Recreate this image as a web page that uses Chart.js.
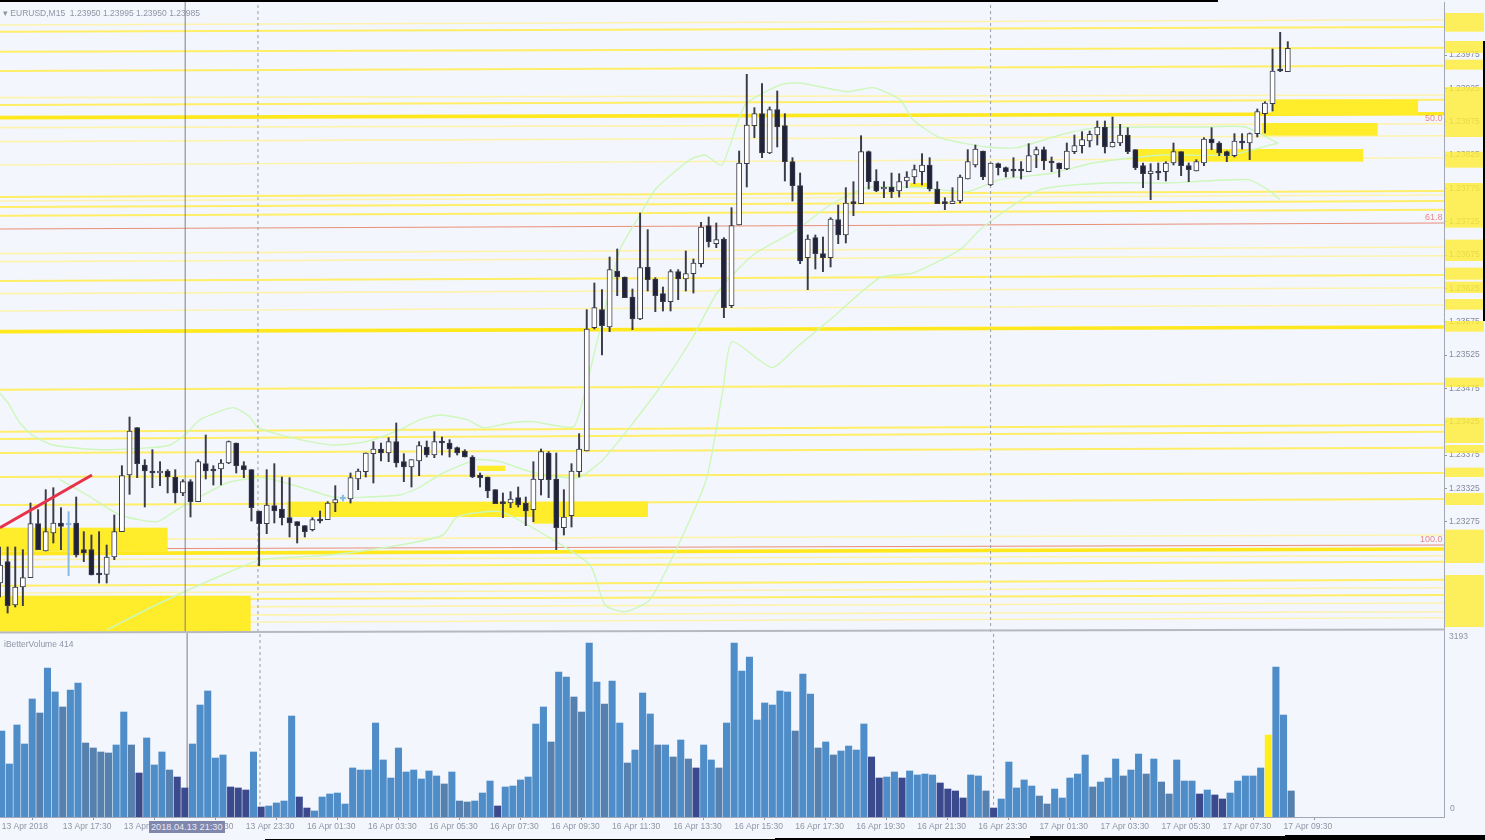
<!DOCTYPE html>
<html>
<head>
<meta charset="utf-8">
<title>EURUSD,M15</title>
<script src="https://cdn.jsdelivr.net/npm/chart.js@4"></script>
<style>
  html, body { margin: 0; padding: 0; width: 1485px; height: 840px; overflow: hidden; background: #f4f6fd; }
  canvas { position: absolute; left: 0; filter: blur(0.4px); }
  #priceWrap { position: absolute; left: 0; top: 2px; width: 1485px; height: 630px; }
  #volumeWrap { position: absolute; left: 0; top: 632px; width: 1485px; height: 208px; }
  .txt { position: absolute; font: 8.5px "Liberation Sans", sans-serif; color: #8e95a4; white-space: pre; line-height: 10px; }
  .fib { color: #e58a8a; font-size: 9px; }
  .edge { position: absolute; background: #000; }
  #dateBox { background: #8087ad; color: #e8eaf5; padding: 1px 2px; font-size: 9.2px; }
  #paneLine { position: absolute; left: 0; top: 630px; width: 1445px; height: 2px; background: #b7b9be; transform: rotate(-0.11deg); }
</style>
</head>
<body>
<div id="priceWrap"><canvas id="priceChart"></canvas></div>
<div id="volumeWrap"><canvas id="volumeChart"></canvas></div>
<div id="paneLine"></div>

<div class="txt" style="left:3px;top:8px">▾ EURUSD,M15  1.23950 1.23995 1.23950 1.23985</div>
<div class="txt" style="left:4px;top:639px">iBetterVolume 414</div>
<div class="txt" style="left:1449px;top:631px">3193</div>
<div class="txt" style="left:1450px;top:803px">0</div>
<div class="txt fib" style="left:1425px;top:113px">50.0</div>
<div class="txt fib" style="left:1425px;top:212px">61.8</div>
<div class="txt fib" style="left:1420px;top:534px">100.0</div>
<div class="txt" id="dateBox" style="left:149px;top:821px">2018.04.13 21:30</div>
<div class="edge" style="left:0;top:0;width:1218px;height:2px"></div>
<div class="edge" style="left:1483px;top:41px;width:2px;height:280px"></div>
<div class="edge" style="left:265px;top:839px;width:1220px;height:1px"></div>
<div class="edge" style="left:775px;top:838px;width:710px;height:2px"></div>
<div class="edge" style="left:1030px;top:836px;width:455px;height:4px"></div>
<div class="edge" style="left:1285px;top:835px;width:200px;height:5px"></div>

<script>
// all prices in points, 123237 = 1.23237
const highPrices = [
  123237,123237,123237,123233,123303,123293,123323,123326,123296,123290,
  123312,123260,123255,123260,123240,123285,123359,123432,123416,123368,
  123383,123365,123353,123353,123338,123338,123368,123405,123359,123368,
  123396,123393,123365,123353,123291,123353,123362,123342,123341,123275,
  123269,123281,123291,123305,123329,123315,123348,123354,123378,123395,
  123393,123401,123423,123377,123368,123395,123396,123410,123402,123398,
  123387,123383,123374,123348,123342,123323,123318,123320,123327,123312,
  123365,123384,123380,123378,123323,123362,123407,123593,123633,123623,
  123672,123684,123642,123624,123738,123713,123641,123627,123653,123653,
  123681,123669,123724,123732,123723,123701,123746,123831,123946,123896,
  123932,123897,123921,123887,123821,123798,123705,123705,123702,123731,
  123750,123776,123785,123854,123831,123803,123785,123798,123797,123800,
  123810,123827,123821,123785,123761,123776,123795,123833,123840,123831,
  123813,123813,123807,123821,123815,123842,123837,123837,123822,123813,
  123843,123855,123860,123861,123876,123876,123882,123871,123866,123833,
  123813,123812,123813,123815,123843,123830,123813,123818,123851,123866,
  123845,123831,123857,123857,123858,123894,123905,123984,124009,123995];
const lowPrices = [
  123162,123138,123147,123149,123191,123233,123231,123243,123233,123194,
  123222,123215,123195,123183,123183,123218,123260,123316,123341,123297,
  123326,123329,123318,123303,123314,123282,123305,123339,123330,123330,
  123362,123348,123341,123276,123209,123257,123273,123270,123252,123243,
  123252,123261,123273,123278,123290,123306,123303,123323,123342,123333,
  123366,123365,123357,123335,123327,123344,123372,123371,123375,123372,
  123375,123372,123341,123327,123311,123302,123281,123296,123297,123269,
  123275,123315,123311,123233,123255,123267,123342,123381,123564,123525,
  123560,123614,123611,123563,123578,123621,123590,123591,123591,123608,
  123621,123618,123657,123687,123686,123581,123596,123720,123777,123851,
  123821,123827,123837,123786,123756,123662,123623,123654,123650,123657,
  123692,123693,123734,123752,123774,123770,123761,123761,123762,123776,
  123782,123780,123771,123752,123743,123752,123753,123789,123807,123788,
  123779,123795,123792,123792,123789,123800,123806,123803,123800,123792,
  123803,123827,123828,123837,123840,123828,123837,123839,123827,123803,
  123776,123758,123788,123786,123810,123794,123785,123801,123809,123833,
  123824,123815,123822,123834,123818,123852,123858,123891,123950,123950];
const openPrices = [
  123183,123215,123150,123177,123191,123272,123231,123258,123273,123272,
  123273,123233,123233,123198,123196,123222,123260,123345,123416,123360,
  123351,123348,123351,123342,123318,123335,123305,123362,123353,123354,
  123363,123393,123359,123353,123291,123272,123299,123294,123281,123275,
  123269,123263,123279,123278,123303,123309,123309,123339,123350,123377,
  123384,123378,123395,123365,123357,123366,123387,123375,123396,123393,
  123386,123381,123372,123345,123342,123323,123303,123303,123311,123303,
  123293,123338,123378,123339,123266,123284,123350,123381,123566,123593,
  123567,123651,123642,123612,123579,123657,123639,123617,123605,123650,
  123639,123647,123662,123719,123692,123699,123599,123720,123812,123869,
  123887,123828,123893,123869,123815,123779,123671,123701,123677,123671,
  123728,123705,123753,123752,123830,123786,123774,123777,123771,123786,
  123792,123800,123810,123774,123755,123752,123756,123789,123810,123831,
  123780,123812,123806,123804,123803,123800,123825,123833,123816,123813,
  123804,123830,123839,123846,123855,123867,123837,123843,123855,123833,
  123809,123797,123800,123800,123813,123830,123809,123801,123813,123849,
  123843,123830,123824,123846,123843,123857,123887,123902,123954,123950];
const closePrices = [
  123210,123149,123177,123191,123272,123233,123260,123273,123268,123270,
  123225,123228,123195,123195,123222,123260,123344,123411,123362,123351,
  123348,123351,123342,123318,123335,123305,123365,123351,123351,123363,
  123395,123359,123353,123296,123272,123300,123291,123281,123273,123269,
  123260,123278,123276,123303,123308,123312,123341,123351,123378,123384,
  123378,123395,123363,123357,123368,123389,123375,123395,123393,123384,
  123378,123372,123342,123341,123321,123302,123302,123309,123300,123291,
  123339,123380,123338,123266,123282,123351,123384,123564,123596,123569,
  123653,123642,123611,123579,123656,123638,123614,123605,123650,123639,
  123647,123663,123717,123695,123698,123596,123719,123813,123870,123887,
  123828,123893,123867,123815,123779,123666,123699,123677,123671,123729,
  123705,123753,123752,123830,123785,123771,123777,123770,123785,123792,
  123803,123810,123774,123752,123752,123756,123792,123815,123834,123792,
  123813,123806,123800,123801,123801,123824,123833,123816,123813,123804,
  123831,123839,123848,123856,123867,123837,123844,123855,123830,123806,
  123797,123801,123798,123813,123830,123809,123803,123815,123849,123843,
  123828,123824,123846,123843,123857,123890,123903,123951,123951,123985];
const blueCandles = [9, 45];

const volumes = [
  1484,915,1588,1260,2037,1795,2572,2158,1899,2192,
  2313,1277,1191,1122,1105,1243,1812,1243,759,1364,
  898,1122,811,690,501,1260,1933,2175,1018,1070,
  518,501,466,1122,173,190,242,276,1743,345,
  155,104,345,397,414,224,846,811,811,1622,
  984,673,1191,777,811,656,794,708,570,777,
  276,259,276,414,621,190,518,535,639,690,
  1605,1899,1295,2503,2416,2071,1812,3003,2330,1950,
  2347,1622,932,1156,2140,1778,1243,1243,1036,1329,
  1001,846,1243,984,846,1622,3003,2520,2762,1674,
  1968,1933,2175,2158,1484,2468,2123,1191,1295,1070,
  1139,1225,1156,1605,1036,673,690,777,673,794,
  725,742,725,587,483,449,328,725,708,449,
  155,311,949,501,639,535,362,224,483,328,
  673,742,1070,518,604,673,1001,708,811,1087,
  742,1001,604,397,984,621,621,397,466,380,
  311,414,621,708,708,846,1415,2589,1760,449];
const climaxBars = [166];
const lowVolumeBars = [18,23,24,30,31,32,34,39,40,65,91,114,115,118,123,124,125,126,130,157,159,160];
const steelBars = [5,8,11,12,13,14,17,22,58,60,61,72,75,76,79,82,86,88,90,94,104,107,109,129,136,137,143,147,150,152,153,169];

const priceTicks = [123975,123925,123875,123825,123775,123725,123675,123625,123575,123525,123475,123425,123375,123325,123275];
const timeTickBars = [0,8,16,24,32,40,48,56,64,72,80,88,96,104,112,120,128,136,144,152,160,168];
const timeTickLabels = ["13 Apr 2018","13 Apr 17:30","13 Apr 19:30","13 Apr 21:30","13 Apr 23:30",
  "16 Apr 01:30","16 Apr 03:30","16 Apr 05:30","16 Apr 07:30","16 Apr 09:30","16 Apr 11:30","16 Apr 13:30",
  "16 Apr 15:30","16 Apr 17:30","16 Apr 19:30","16 Apr 21:30","16 Apr 23:30",
  "17 Apr 01:30","17 Apr 03:30","17 Apr 05:30","17 Apr 07:30","17 Apr 09:30"];

// horizontal levels, [price at left edge, price at right edge] (the scan is slightly tilted)
const faintLevels = [[124020,124028],[123911,123915],[123866,123872],[123845,123854],[123810,123821],[123756,123765],
  [123677,123687],[123665,123674],[123617,123626],[123591,123600],[123248,123255],[123218,123224],
  [123168,123176],[123146,123153],[123134,123140],[123123,123131]];
const mediumLevels = [[124010,124017],[123980,123986],[123951,123959],[123900,123908],[123762,123771],[123747,123756],
  [123734,123743],[123636,123645],[123473,123482],[123410,123420],[123399,123410],[123378,123386],
  [123342,123348],[123300,123309],[123207,123215],[123179,123188],[123158,123165]];
const strongLevels = [[123881,123887],[123560,123567],[123227,123234]];
const fibLevels = [[123714,123723],[123234,123240]];
const trendBars = [0, 12.07];
const trendPrices = [123266, 123345];

// yellow supply / demand boxes
const zoneFrom = [0,0,37.66,69.9,166.9,165.6,149.3,62.6,119.4];
const zoneTo = [22,32.9,85.04,72.6,186.1,180.8,178.9,66.3,121.7];
const zoneTop = [123266,123164,123305,123284,123908,123873,123834,123359,123783];
const zoneBottom = [123230,123110,123282,123272,123885,123854,123815,123351,123777];

// yellow price tags on the right hand axis
const tagTop = [124038,123996,123968,123927,123830,123783,123698,123656,123635,123609,123576,123491,123431,123390,123356,123318,123263,123195];
const tagBottom = [124010,123978,123953,123852,123806,123716,123666,123638,123618,123593,123560,123477,123393,123378,123342,123300,123213,123117];

// bollinger bands
const upperBars = [0,1.05,2.62,4.33,6.96,13.12,19.69,22.31,24.54,26.25,30.58,32.81,33.86,39.37,43.7,48.03,52.49,55.12,57.74,61.29,63.39,66.93,69.95,75.2,76.38,78.74,81.36,83.99,85.96,90.55,92.52,94.75,97.77,102.36,104.99,111.15,114.57,118.11,119.82,123.36,129.53,133.46,139.11,143.96,157.74,163.39,167.72];
const upperBand = [123468,123453,123423,123404,123390,123383,123386,123390,123408,123428,123446,123432,123416,123398,123390,123395,123413,123428,123435,123428,123416,123423,123425,123417,123453,123563,123683,123735,123773,123818,123825,123810,123900,123930,123933,123920,123926,123908,123878,123851,123837,123836,123855,123866,123867,123867,123843];
const middleBars = [7.87,11.42,15.75,20.6,23.23,29.79,34.38,39.37,43.7,48.16,52.49,55.12,58.14,62.6,65.62,69.55,73.49,76.12,79.13,83.07,87.01,90.94,94.09,98.82,104.59,108.92,113.78,120.73,126.9,131.23,138.19,143.44,152.23,161.42,167.72];
const middleBand = [123338,123315,123285,123275,123293,123333,123341,123327,123312,123312,123315,123327,123348,123368,123365,123350,123342,123342,123368,123423,123483,123552,123618,123675,123713,123750,123776,123776,123770,123788,123798,123813,123825,123825,123843];
const lowerBars = [14.04,21,29.79,34.38,43.31,52.49,58.14,59.97,65.62,71.52,77.43,79.4,82.02,85.3,89.63,92.78,94.88,96.06,101.31,104.59,108.92,115.49,119.82,125.98,129,136.48,145.01,153.28,163.78,166.4,167.98];
const lowerBand = [123113,123153,123198,123218,123225,123240,123255,123282,123290,123255,123210,123150,123140,123158,123255,123342,123473,123545,123506,123537,123578,123641,123648,123683,123717,123773,123783,123783,123788,123773,123758];

const crosshairBar = 24.3;
const sessionBars = [33.85, 130];

const priceMin = 123109.5;
const priceMax = 124054.5;
const volumeMax = 3193;

function levelDatasets(levels, color, width) {
  return levels.map((l) => ({
    type: "line",
    data: [{ x: 0, y: l[0] }, { x: 190, y: l[1] }],
    borderColor: color,
    borderWidth: width,
    pointRadius: 0,
    order: 8,
  }));
}

function bandDataset(bars, prices) {
  return {
    type: "line",
    data: bars.map((b, i) => ({ x: b, y: prices[i] })),
    borderColor: "#cdf7bb",
    borderWidth: 1.4,
    pointRadius: 0,
    tension: 0.2,
    order: 7,
  };
}

function verticalDataset(bar, low, high, color, dash) {
  return {
    type: "line",
    data: [{ x: bar, y: low }, { x: bar, y: high }],
    borderColor: color,
    borderWidth: 1,
    borderDash: dash,
    pointRadius: 0,
    order: 6,
  };
}

// boxes cover the level lines but stay under everything else, price tags go over the axis labels
const pricePanels = {
  id: "pricePanels",
  beforeDatasetDraw(chart, args) {
    if (!chart.data.datasets[args.index].zoneMarker) return;
    const { x, y } = chart.scales;
    const ctx = chart.ctx;
    ctx.save();
    ctx.fillStyle = "#ffec2b";
    zoneFrom.forEach((from, i) => {
      const left = x.getPixelForValue(from);
      const top = y.getPixelForValue(zoneTop[i]);
      ctx.fillRect(left, top, x.getPixelForValue(zoneTo[i]) - left, y.getPixelForValue(zoneBottom[i]) - top);
    });
    ctx.restore();
  },
  afterDraw(chart) {
    const { y } = chart.scales;
    const ctx = chart.ctx;
    ctx.save();
    ctx.fillStyle = "rgba(255,238,50,0.8)";
    tagTop.forEach((t, i) => {
      const top = y.getPixelForValue(t);
      ctx.fillRect(chart.chartArea.right + 1, top, 39, y.getPixelForValue(tagBottom[i]) - top);
    });
    ctx.restore();
  },
};

const candleBars = highPrices.map((_, i) => i);
const isBlue = (i) => blueCandles.includes(i);

const wickDataset = {
  data: candleBars.map((i) => ({ x: i, y: [lowPrices[i], highPrices[i]] })),
  backgroundColor: candleBars.map((i) => (isBlue(i) ? "#8ab8e0" : "#3a3b48")),
  barThickness: 1.3,
  grouped: false,
  order: 2,
};

const bodyDataset = {
  data: candleBars.map((i) => ({ x: i, y: [openPrices[i], closePrices[i]] })),
  backgroundColor: candleBars.map((i) => (isBlue(i) ? "#8ab8e0" : closePrices[i] >= openPrices[i] ? "#ffffff" : "#1f2238")),
  borderColor: candleBars.map((i) => (isBlue(i) ? "#8ab8e0" : "#3a3b48")),
  borderWidth: 1,
  borderSkipped: false,
  barThickness: 5.2,
  minBarLength: 2,
  grouped: false,
  order: 1,
};

new Chart(document.getElementById("priceChart"), {
  type: "bar",
  data: {
    datasets: [
      ...levelDatasets(faintLevels, "#fdf3ad", 1.6),
      ...levelDatasets(mediumLevels, "#ffee66", 2),
      ...levelDatasets(strongLevels, "#ffe81e", 3.6),
      ...levelDatasets(fibLevels, "#e88f78", 1.2),
      { type: "line", data: [], order: 7.5, zoneMarker: true },
      bandDataset(upperBars, upperBand),
      bandDataset(middleBars, middleBand),
      bandDataset(lowerBars, lowerBand),
      verticalDataset(crosshairBar, priceMin, priceMax, "#7c7f88", []),
      verticalDataset(sessionBars[0], priceMin, priceMax, "#9a9da6", [3, 3]),
      verticalDataset(sessionBars[1], priceMin, priceMax, "#9a9da6", [3, 3]),
      {
        type: "line",
        data: trendBars.map((b, i) => ({ x: b, y: trendPrices[i] })),
        borderColor: "#e8324a",
        borderWidth: 3,
        pointRadius: 0,
        order: 0,
      },
      wickDataset,
      bodyDataset,
    ],
  },
  options: {
    responsive: true,
    maintainAspectRatio: false,
    animation: false,
    layout: { padding: 0 },
    plugins: { legend: { display: false }, tooltip: { enabled: false } },
    scales: {
      x: { type: "linear", display: false, offset: false, min: 0, max: 189.5 },
      y: {
        position: "right",
        min: priceMin,
        max: priceMax,
        afterBuildTicks(scale) {
          scale.ticks = priceTicks.map((v) => ({ value: v }));
        },
        afterFit(scale) {
          scale.width = 41;
          scale.paddingTop = 0;
          scale.paddingBottom = 0;
        },
        grid: { drawOnChartArea: false, tickLength: 3, color: "#8f94a3" },
        border: { color: "#a3a8b8" },
        ticks: {
          autoSkip: false,
          padding: 2,
          color: "#858b9a",
          font: { family: "Liberation Sans", size: 8.5 },
          callback: (v) => (v / 100000).toFixed(5),
        },
      },
    },
  },
  plugins: [pricePanels],
});

function volumeColor(i) {
  if (climaxBars.includes(i)) return "#ffee1a";
  if (lowVolumeBars.includes(i)) return "#3b4a8c";
  if (steelBars.includes(i)) return "#5680ad";
  return "#4f8dc8";
}

new Chart(document.getElementById("volumeChart"), {
  type: "bar",
  data: {
    datasets: [
      {
        data: volumes.map((v, i) => ({ x: i, y: v })),
        backgroundColor: volumes.map((_, i) => volumeColor(i)),
        barThickness: 6.4,
        grouped: false,
        order: 2,
      },
      verticalDataset(crosshairBar, 0, volumeMax, "#7c7f88", []),
      verticalDataset(sessionBars[0], 0, volumeMax, "#9a9da6", [3, 3]),
      verticalDataset(sessionBars[1], 0, volumeMax, "#9a9da6", [3, 3]),
    ],
  },
  options: {
    responsive: true,
    maintainAspectRatio: false,
    animation: false,
    layout: { padding: 0 },
    plugins: { legend: { display: false }, tooltip: { enabled: false } },
    scales: {
      x: {
        type: "linear",
        offset: false,
        min: -0.223,
        max: 189.03,
        afterBuildTicks(scale) {
          scale.ticks = timeTickBars.map((v) => ({ value: v }));
        },
        afterFit(scale) {
          scale.height = 23;
          scale.paddingLeft = 0;
          scale.paddingRight = 0;
        },
        grid: { drawOnChartArea: false, tickLength: 3, color: "#8f94a3" },
        border: { color: "#a3a8b8" },
        ticks: {
          autoSkip: false,
          maxRotation: 0,
          align: "start",
          padding: 2,
          color: "#8e95a4",
          font: { family: "Liberation Sans", size: 8.5 },
          callback: (v) => timeTickLabels[timeTickBars.indexOf(v)],
        },
      },
      y: {
        position: "right",
        min: 0,
        max: volumeMax,
        afterFit(scale) {
          scale.width = 41;
          scale.paddingTop = 0;
          scale.paddingBottom = 0;
        },
        grid: { display: false },
        border: { color: "#a3a8b8" },
        ticks: { display: false },
      },
    },
  },
});
</script>
</body>
</html>
